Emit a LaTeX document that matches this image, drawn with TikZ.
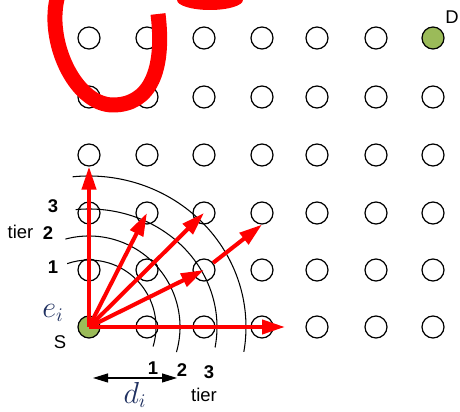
\documentclass[tikz,border=0pt]{standalone}
\usepackage{fontspec}
\setmainfont{Liberation Sans}
\usepackage{tikz}
\usetikzlibrary{arrows.meta}
\definecolor{sitegreen}{HTML}{9BBB59}
\definecolor{mathnavy}{HTML}{1F3060}
\definecolor{markred}{HTML}{FF0000}
\tikzset{
  site/.style={draw, circle, line width=0.7pt, minimum size=4.4mm, inner sep=0pt},
  endsite/.style={site, fill=sitegreen},
  ray/.style={-{Triangle[length=4.6mm,width=2.8mm]}, line width=2.3pt, color=markred},
  scribble/.style={line width=3mm, color=markred}
}

\begin{document}
\begin{tikzpicture}[font=\fontsize{10.5}{12}\selectfont]
  \tikzset{tierarc/.style={draw, line width=0.6pt},
           numlabel/.style={font=\fontsize{10.5}{12}\selectfont\bfseries, inner sep=0pt},
           mathlabel/.style={text=mathnavy, font=\fontsize{16}{18}\selectfont, inner sep=0pt},
           spanarrow/.style={{Triangle[length=3mm,width=1.8mm]}-{Triangle[length=3mm,width=1.8mm]}, line width=0.6pt}}
  \path[use as bounding box, clip] (0,0) rectangle (9.2,8.24);

  \foreach \c/\x in {0/1.78,1/2.94,2/4.08,3/5.24,4/6.34,5/7.52,6/8.66}
    \foreach \r/\y in {0/1.70,1/2.84,2/3.98,3/5.14,4/6.30,5/7.48} {
      \def\kind{site}
      \ifnum\c\r=0 \def\kind{endsite}\fi
      \ifnum\c\r=65 \def\kind{endsite}\fi
      \node[\kind] (p\c\r) at (\x,\y) {};
    }

  \node (slabel) at (1.20,1.40) {S};
  \node (dlabel) at (9.04,7.90) {D};
  \node[mathlabel] (ei) at (1.06,1.98) {$e_i$};
  \node[mathlabel] (di) at (2.70,0.34) {$d_i$};

  \draw[tierarc] ([shift={(-17:1.34)}]p00.center) arc[start angle=-17, end angle=109, radius=1.34];
  \draw[tierarc] ([shift={(-16:1.82)}]p00.center) arc[start angle=-16, end angle=105, radius=1.82];
  \draw[tierarc] ([shift={(-10:2.56 and 2.36)}]p00.center) arc[start angle=-10, end angle=96, x radius=2.56, y radius=2.36];
  \draw[tierarc] ([shift={(-9.5:3.14 and 3.02)}]p00.center) arc[start angle=-9.5, end angle=96, x radius=3.14, y radius=3.02];

  \node[numlabel] (l3) at (1.06,4.12) {3};
  \node[numlabel] (l2) at (0.96,3.58) {2};
  \node[numlabel] (l1) at (1.06,2.90) {1};
  \node[inner sep=0pt, anchor=base] (ltier) at (0.41,3.46) {tier};
  \node[numlabel] (b1) at (3.06,0.88) {1};
  \node[numlabel] (b2) at (3.64,0.84) {2};
  \node[numlabel] (b3) at (4.18,0.80) {3};
  \node[inner sep=0pt, anchor=base] (btier) at (4.08,0.20) {tier};

  \coordinate (spanl) at (1.86,0.68);
  \coordinate (spanr) at (3.54,0.68);
  \draw[spanarrow] (spanl) -- (spanr);

  \coordinate (hend) at (5.70,1.70);
  \draw[ray] (p00.center) -- (p03.south);
  \draw[ray] (p00.center) -- (p12.center);
  \draw[ray] (p00.center) -- (p22.center);
  \draw[ray] (p00.center) -- (p21.center);
  \draw[ray] (p21) -- (p32.south);
  \draw[ray] (p00.center) -- (hend);

  \draw[scribble] (1.16,8.34) .. controls (0.90,7.44) and (1.50,6.14) .. (2.26,6.14)
                  .. controls (3.00,6.14) and (3.30,6.84) .. (3.16,7.96);
  \fill[markred] (4.2,8.24) ellipse [x radius=0.66, y radius=0.2];
\end{tikzpicture}
\end{document}
